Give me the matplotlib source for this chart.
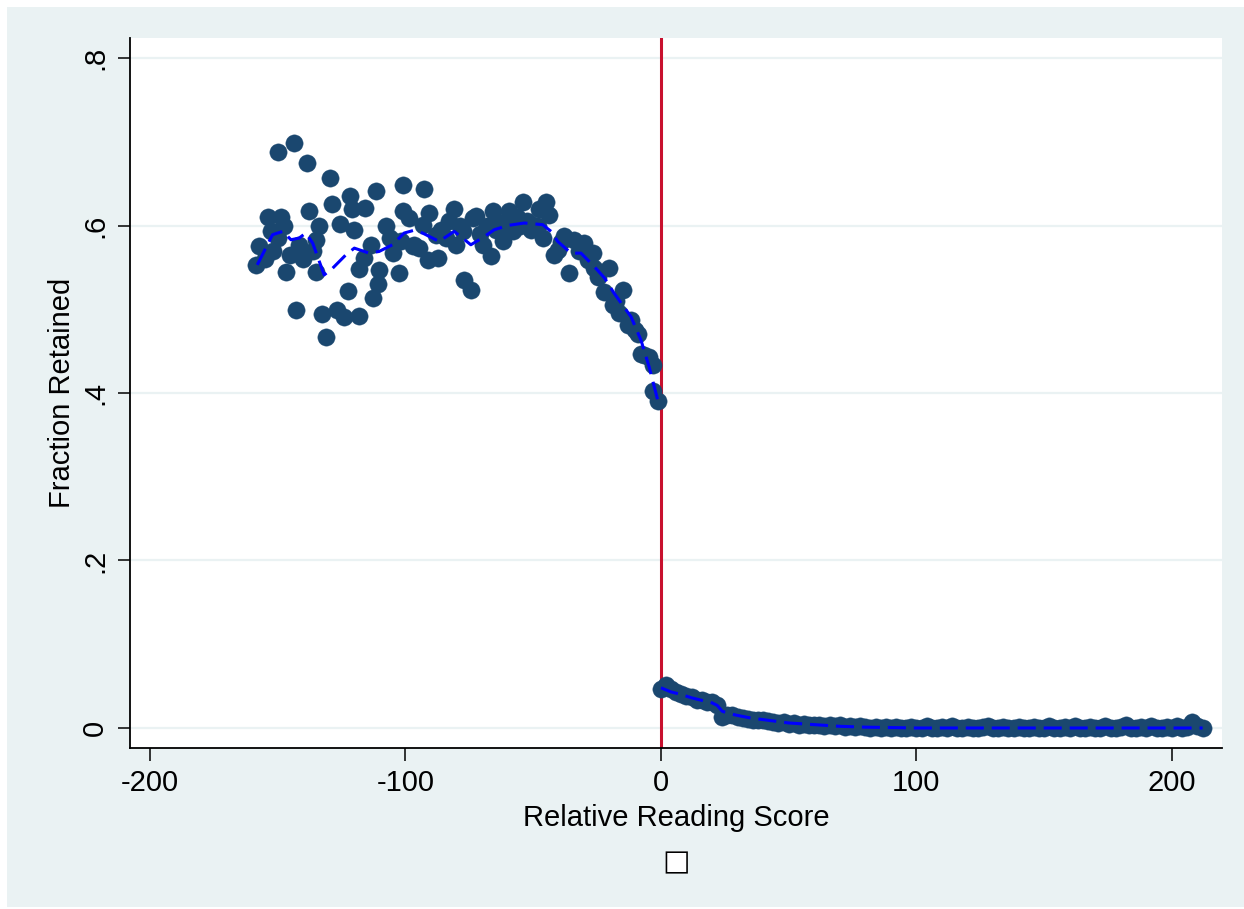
import numpy as np
import matplotlib
matplotlib.use("Agg")
import matplotlib.pyplot as plt
from matplotlib.patches import Rectangle

plt.rcParams['font.family'] = ['Liberation Sans', 'DejaVu Sans']
plt.rcParams['axes.unicode_minus'] = False

# binned retention rates below the cutoff
left_x = [-158.4, -157.2, -155.0, -153.7, -152.6, -151.9, -150.0, -149.8, -148.8, -147.5,
          -146.8, -145.0, -143.8, -142.9, -141.6, -140.0, -138.7, -137.6, -136.0, -135.0,
          -135.0, -133.7, -132.7, -131.1, -129.5, -128.8, -126.9, -125.6, -124.0, -122.6,
          -121.6, -120.9, -120.0, -118.1, -118.1, -116.1, -115.7, -113.5, -112.8, -111.5,
          -110.9, -110.3, -107.6, -106.0, -105.0, -102.4, -101.8, -101.1, -100.9, -98.5,
          -97.0, -96.6, -94.6, -93.3, -92.6, -91.3, -90.7, -88.1, -87.4, -86.0,
          -84.1, -82.9, -80.9, -80.2, -78.5, -77.6, -77.0, -74.4, -73.7, -72.4,
          -71.0, -69.8, -68.0, -66.5, -65.9, -64.5, -63.3, -62.0, -60.5, -59.4,
          -58.0, -56.5, -55.0, -54.1, -52.5, -51.0, -50.2, -48.3, -47.6, -46.3,
          -45.0, -43.7, -41.8, -40.4, -39.0, -37.8, -35.8, -33.9, -32.0, -30.0,
          -28.7, -26.7, -26.1, -24.8, -22.2, -20.2, -18.9, -17.5, -16.3, -15.0,
          -13.0, -11.7, -10.0, -9.1, -7.8, -6.5, -4.6, -3.2, -3.2, -1.3]
left_y = [0.553, 0.575, 0.560, 0.610, 0.593, 0.570, 0.585, 0.688, 0.610, 0.600,
          0.545, 0.565, 0.699, 0.499, 0.577, 0.560, 0.675, 0.617, 0.570, 0.583,
          0.545, 0.599, 0.494, 0.467, 0.657, 0.626, 0.499, 0.602, 0.491, 0.522,
          0.635, 0.620, 0.595, 0.548, 0.492, 0.561, 0.621, 0.577, 0.513, 0.641,
          0.530, 0.547, 0.599, 0.585, 0.567, 0.543, 0.581, 0.617, 0.648, 0.609,
          0.575, 0.577, 0.573, 0.601, 0.644, 0.559, 0.615, 0.589, 0.561, 0.595,
          0.585, 0.605, 0.620, 0.577, 0.600, 0.593, 0.535, 0.523, 0.609, 0.611,
          0.590, 0.577, 0.600, 0.563, 0.617, 0.595, 0.601, 0.581, 0.605, 0.617,
          0.593, 0.610, 0.600, 0.628, 0.605, 0.595, 0.601, 0.599, 0.620, 0.585,
          0.628, 0.613, 0.565, 0.571, 0.580, 0.587, 0.543, 0.583, 0.570, 0.579,
          0.559, 0.567, 0.549, 0.539, 0.521, 0.549, 0.505, 0.510, 0.495, 0.523,
          0.481, 0.487, 0.475, 0.471, 0.447, 0.445, 0.443, 0.433, 0.402, 0.390]

# binned retention rates above the cutoff
right_x = np.arange(0, 213, 2)
right_y = [0.047, 0.051, 0.046, 0.043, 0.040, 0.038, 0.037, 0.034, 0.033, 0.031,
           0.031, 0.028, 0.013, 0.016, 0.015, 0.013, 0.012, 0.011, 0.010, 0.009,
           0.009, 0.008, 0.007, 0.006, 0.007, 0.005, 0.006, 0.004, 0.005, 0.004,
           0.003, 0.004, 0.002, 0.003, 0.002, 0.003, 0.001, 0.002, 0.001, 0.002,
           0.001, 0.000, 0.001, 0.000, 0.001, 0.000, 0.001, 0.000, 0.000, 0.001,
           0.000, 0.000, 0.002, 0.000, 0.000, 0.001, 0.000, 0.002, 0.000, 0.000,
           0.001, 0.000, 0.000, 0.001, 0.002, 0.000, 0.000, 0.001, 0.000, 0.000,
           0.001, 0.000, 0.000, 0.001, 0.000, 0.000, 0.002, 0.000, 0.000, 0.001,
           0.000, 0.002, 0.000, 0.000, 0.001, 0.000, 0.000, 0.002, 0.000, 0.000,
           0.001, 0.003, 0.000, 0.000, 0.001, 0.000, 0.002, 0.000, 0.000, 0.001,
           0.000, 0.002, 0.000, 0.001, 0.007, 0.002, 0.000]

# local polynomial fits on each side
fit_left_x = [-158, -152, -148, -144.8, -141.6, -139, -136.3, -131.8, -128.5, -123.3,
              -120, -114.2, -110.3, -105.1, -100.5, -97, -93.3, -86.8, -80.9, -74.4,
              -70, -65.2, -60, -53.5, -46.3, -43, -40.4, -35.2, -31.3, -26.1,
              -22, -18.3, -15, -11.7, -7.8, -4.6, -1.3, 0]
fit_left_y = [0.553, 0.589, 0.593, 0.583, 0.585, 0.591, 0.579, 0.541, 0.549, 0.565,
              0.573, 0.567, 0.569, 0.577, 0.591, 0.594, 0.591, 0.581, 0.593, 0.577,
              0.585, 0.595, 0.600, 0.603, 0.601, 0.593, 0.581, 0.567, 0.567, 0.551,
              0.537, 0.519, 0.505, 0.491, 0.463, 0.431, 0.392, 0.385]
fit_right_x = [0, 4, 8, 12, 16, 20, 22, 24, 27, 30, 35, 40, 45, 50, 60, 70, 80, 90, 100, 212]
fit_right_y = [0.048, 0.043, 0.040, 0.036, 0.033, 0.030, 0.027, 0.020, 0.017, 0.015,
               0.012, 0.010, 0.008, 0.006, 0.004, 0.002, 0.001, 0.0005, 0.0, 0.0]

x_ticks = [-200, -100, 0, 100, 200]
y_ticks = [0, 0.2, 0.4, 0.6, 0.8]
y_ticklabels = ['0', '.2', '.4', '.6', '.8']

navy = '#1a476f'
bg = '#eaf2f3'

fig = plt.figure(figsize=(12.44, 9.09), dpi=100, facecolor='white')
fig.patches.append(Rectangle((7 / 1244, 2 / 909), 1, 1 - 9 / 909, transform=fig.transFigure,
                             facecolor=bg, edgecolor='none', zorder=-10))
ax = fig.add_axes([130 / 1244, 1 - 748 / 909, 1092 / 1244, 710 / 909])
ax.set_facecolor('white')

ax.scatter(left_x, left_y, s=155, color=navy, edgecolors=navy, linewidths=0.3, zorder=3)
ax.scatter(right_x, right_y, s=155, color=navy, edgecolors=navy, linewidths=0.3, zorder=3)
ax.plot(fit_left_x, fit_left_y, color='#0000ff', lw=2.2, dashes=(5.9, 2.6), zorder=4)
ax.plot(fit_right_x, fit_right_y, color='#0000ff', lw=2.2, dashes=(5.9, 2.6), zorder=4)
ax.axvline(0, color='#c8102e', lw=2.2, zorder=2)

ax.set_xlim(-207.8, 219.6)
ax.set_ylim(-0.0239, 0.8239)
ax.set_xticks(x_ticks)
ax.set_yticks(y_ticks)
ax.set_yticklabels(y_ticklabels)
ax.grid(axis='y', color=bg, lw=1.6, zorder=0)
ax.set_axisbelow(True)

for side in ['top', 'right']:
    ax.spines[side].set_visible(False)
for side in ['left', 'bottom']:
    ax.spines[side].set_linewidth(1.3)

ax.tick_params(axis='both', direction='out', length=9, width=1.1, labelsize=21, pad=6)
ax.tick_params(axis='y', labelrotation=90)
for lbl in ax.get_yticklabels():
    lbl.set_va('center')

ax.set_xlabel('Relative Reading Score', fontsize=21, va='center')
ax.xaxis.set_label_coords(0.5, -70 / 710)
ax.set_ylabel('Fraction Retained', fontsize=21, va='center')
ax.yaxis.set_label_coords(-68 / 1092, 0.5)

# empty note box under the axis title
ax.text(0.5, -114 / 710, '\u25a0', color='white', fontsize=21, family='DejaVu Sans',
        ha='center', va='center', transform=ax.transAxes)
ax.text(0.5, -114 / 710, '\u25a1', color='black', fontsize=21, family='DejaVu Sans',
        ha='center', va='center', transform=ax.transAxes)

fig.savefig('out.png', dpi=100, facecolor=fig.get_facecolor())
